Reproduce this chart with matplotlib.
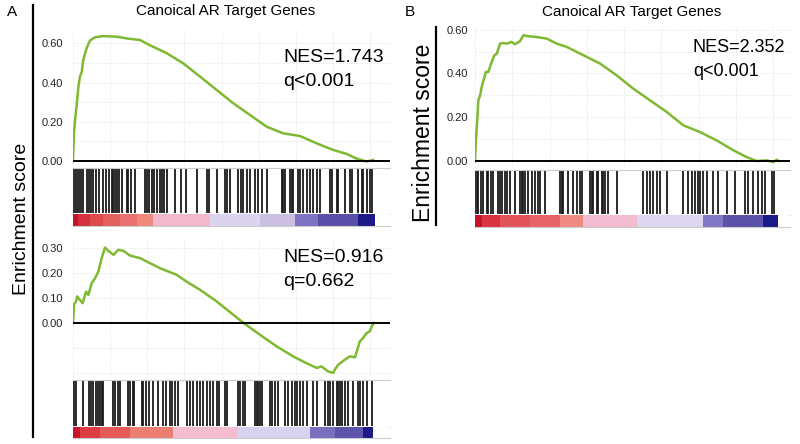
import numpy as np
import matplotlib.pyplot as plt

plt.rcParams['font.family'] = ['Liberation Sans', 'DejaVu Sans']

title = "Canoical AR Target Genes"

# running enrichment score, x = position in ranked gene list (%)
a1_x = [0, 0.3, 0.8, 1.2, 1.8, 2.3, 2.9, 3.4, 4.0, 4.7, 5.6, 7.3, 10.0, 14.5, 17.8,
        22.2, 25.5, 31.0, 36.5, 42.1, 47.6, 53.1, 58.6, 64.1, 69.6, 75.2, 80.7,
        86.2, 90.6, 93.9, 97.2, 99.4]
a1_y = [0, 0.14, 0.226, 0.28, 0.38, 0.43, 0.455, 0.515, 0.55, 0.583, 0.614, 0.631,
        0.637, 0.634, 0.625, 0.617, 0.59, 0.55, 0.498, 0.43, 0.362, 0.294, 0.235,
        0.175, 0.141, 0.127, 0.09, 0.056, 0.036, 0.012, -0.003, 0.005]

a2_x = [0, 0.2, 0.3, 1.0, 1.4, 2.3, 3.2, 4.3, 5.1, 6.2, 7.3, 8.4, 9.5, 10.6, 11.7,
        13.4, 15.0, 16.7, 18.9, 22.2, 25.5, 28.8, 34.3, 37.6, 42.1, 47.6, 53.1,
        56.9, 61.9, 67.4, 72.9, 77.3, 80.7, 82.3, 84.5, 86.2, 86.7, 87.9, 90.1,
        91.7, 93.4, 95.0, 96.1, 97.2, 98.3, 99.2, 99.7]
a2_y = [0, 0.04, 0.073, 0.086, 0.106, 0.092, 0.079, 0.125, 0.112, 0.159, 0.178,
        0.205, 0.258, 0.30, 0.287, 0.271, 0.291, 0.287, 0.268, 0.258, 0.238, 0.218,
        0.192, 0.165, 0.132, 0.086, 0.033, -0.003, -0.046, -0.092, -0.132, -0.159,
        -0.178, -0.172, -0.192, -0.198, -0.185, -0.165, -0.145, -0.132, -0.136,
        -0.073, -0.059, -0.040, -0.033, -0.007, 0]

b_x = [0, 0.3, 0.8, 1.1, 1.7, 2.2, 2.8, 3.6, 4.4, 5.5, 6.4, 7.2, 8.3, 9.4, 10.5,
       12.1, 13.2, 14.9, 15.95, 17.6, 20.4, 23.7, 27.0, 30.3, 35.8, 41.3, 46.8,
       52.3, 57.8, 63.3, 68.8, 74.3, 79.8, 85.3, 89.7, 93.0, 96.3, 98.5, 99.6, 100.3]
b_y = [0, 0.094, 0.20, 0.277, 0.30, 0.338, 0.368, 0.407, 0.407, 0.452, 0.483, 0.49,
       0.536, 0.539, 0.536, 0.544, 0.533, 0.548, 0.574, 0.57, 0.566, 0.559, 0.536,
       0.521, 0.483, 0.445, 0.391, 0.33, 0.277, 0.224, 0.163, 0.132, 0.094, 0.049,
       0.018, 0, 0.003, -0.005, 0.006, 0]

# gene set hits (%)
a1_hits = [0.1, 0.7, 1.4, 2.1, 2.6, 3.4, 4.5, 5.3, 6.0, 6.7, 7.6, 8.7, 9.8, 10.9,
           12.0, 12.8, 13.3, 13.9, 14.7, 15.3, 16.1, 17.8, 18.3, 19.1, 20.5, 23.8,
           24.6, 25.3, 26.1, 26.8, 27.7, 28.8, 29.4, 30.1, 31.2, 33.8, 35.7, 37.4,
           41.0, 44.5, 45.1, 47.6, 50.3, 50.9, 52.0, 54.7, 55.6, 56.4, 57.5, 58.6,
           60.3, 61.4, 62.5, 64.1, 69.1, 69.6, 70.2, 71.9, 72.4, 73.0, 74.6, 75.2,
           76.3, 77.4, 78.5, 79.6, 80.7, 81.8, 85.1, 85.7, 87.3, 87.8, 90.1, 91.7,
           92.3, 94.5, 95.6, 96.1, 97.3, 98.3, 98.9]
a2_hits = [0.3, 1.0, 3.2, 5.4, 6.0, 6.7, 7.6, 8.4, 8.9, 9.5, 10.0, 13.3, 13.9, 15.0,
           15.6, 18.3, 18.9, 19.8, 20.2, 22.7, 23.3, 24.2, 25.3, 26.4, 28.2, 29.9,
           30.8, 32.1, 32.7, 33.8, 34.9, 37.6, 38.7, 39.8, 41.0, 42.1, 43.1, 44.3,
           45.4, 46.5, 47.6, 48.4, 50.3, 50.9, 54.7, 55.3, 56.4, 57.0, 60.3, 60.8,
           61.4, 61.9, 62.5, 65.2, 65.8, 66.9, 68.0, 70.2, 71.3, 72.4, 73.5, 74.1,
           75.2, 76.3, 77.4, 79.6, 80.7, 83.4, 84.5, 85.1, 86.2, 87.3, 87.8, 88.4,
           89.0, 90.1, 91.2, 92.8, 94.5, 95.0, 96.1, 97.3, 98.9]
b_hits = [0, 0.6, 1.1, 2.0, 2.7, 3.9, 4.4, 5.3, 6.0, 7.5, 8.2, 8.8, 9.9, 10.5, 11.6,
          13.2, 14.9, 15.4, 15.9, 16.5, 17.4, 18.7, 19.8, 20.7, 21.5, 23.1, 28.1,
          28.6, 29.1, 30.8, 32.4, 33.6, 34.7, 35.2, 38.0, 38.5, 39.1, 40.2, 40.7,
          41.8, 42.3, 42.9, 44.0, 46.8, 55.5, 56.7, 57.8, 58.9, 60.0, 61.1, 63.3,
          68.7, 70.4, 71.5, 72.6, 73.7, 74.3, 75.3, 76.5, 78.6, 80.3, 83.1, 85.8,
          89.1, 90.2, 91.8, 93.5, 94.6, 95.7, 97.9, 98.7]

# ranked metric colour strip: segment edges (%) and colours
a1_edges = [0, 1.7, 5.6, 9.9, 15.6, 21.2, 26.5, 45.4, 61.9, 73.5, 81.1, 94.4, 100]
a1_cols = ['#c2152c', '#d43040', '#dc4a4e', '#e2605e', '#e87070', '#ef887c',
           '#f2b8cc', '#dad4ee', '#cbc0e2', '#7e74c2', '#5a50aa', '#1e1a8a']
a2_edges = [0, 2.3, 8.9, 18.9, 33.1, 54.3, 78.5, 86.8, 96, 99.3]
a2_cols = ['#c8142a', '#dc3c44', '#e45a58', '#ec7e72', '#f4bcd0', '#d8d2ee',
           '#7870be', '#5e54ac', '#1e1a8a']
b_edges = [0, 2.3, 8.3, 18.2, 28.1, 35.6, 53.5, 75.2, 81.8, 95, 100]
b_cols = ['#c4142c', '#d83440', '#e2545a', '#e66468', '#ee8a80', '#f4bcd0',
          '#dcd6ee', '#8078c4', '#5c52aa', '#1c1a88']

W, H = 800, 444
fig = plt.figure(figsize=(8, 4.44), dpi=100)


def box(x0, y0, x1, y1):
    return [x0 / W, 1 - y1 / H, (x1 - x0) / W, (y1 - y0) / H]


def panel(x0, x1, y_top, y_es, y_bar, y_end, xmax, x, y, ylim, ticks, hits,
          edges, cols, pad):
    ax = fig.add_axes(box(x0, y_top, x1, y_es))
    ax.plot(x, y, color='#7fb932', lw=1.8, solid_joinstyle='round')
    ax.axhline(0, color='black', lw=1.4)
    yt = np.arange(-0.2, ylim[1], 0.1)
    ax.set_xticks(np.arange(0, xmax, 12.3))
    ax.set_yticks(yt)
    ax.set_yticklabels(['%.2f' % t if round(t, 2) in ticks else '' for t in yt])
    ax.set_xticklabels([])
    ax.set_xlim(0, xmax)
    ax.set_ylim(*ylim)
    ax.grid(True, color='#dddddd', lw=0.6, ls=':')
    ax.tick_params(length=0, labelsize=8, labelcolor='#222222', pad=pad)
    for s in ax.spines.values():
        s.set_visible(False)

    hx = fig.add_axes(box(x0, y_es, x1, y_bar))
    hx.vlines(hits, 0.02, 1, color='#1a1a1a', lw=1.3)
    hx.set_xlim(0, xmax)
    hx.set_ylim(0, 1)
    hx.set_xticks([])
    hx.set_yticks([])
    for s in ['left', 'right']:
        hx.spines[s].set_visible(False)
    for s in ['top', 'bottom']:
        hx.spines[s].set_color('#cccccc')

    cx = fig.add_axes(box(x0, y_bar, x1, y_end))
    cx.bar(edges[:-1], 1, width=np.diff(edges), align='edge', color=cols, lw=0)
    cx.set_xlim(0, xmax)
    cx.set_ylim(0, 1)
    cx.set_xticks([])
    cx.set_yticks([])
    for s in ['left', 'right', 'top']:
        cx.spines[s].set_visible(False)
    cx.spines['bottom'].set_color('#cccccc')
    return ax


panel(73, 390, 30, 168, 214, 226, 105, a1_x, a1_y, (-0.036, 0.668),
      [0.0, 0.2, 0.4, 0.6], a1_hits, a1_edges, a1_cols, 7)
panel(73, 390, 240, 380, 427, 438, 105, a2_x, a2_y, (-0.226, 0.33),
      [0.0, 0.1, 0.2, 0.3], a2_hits, a2_edges, a2_cols, 7)
panel(475, 790, 27, 170, 215, 227, 104, b_x, b_y, (-0.041, 0.612),
      [0.0, 0.2, 0.4, 0.6], b_hits, b_edges, b_cols, 5)


def ftext(x, y, s, **kw):
    fig.text(x / W, 1 - y / H, s, **kw)


ftext(12, 12, 'A', fontsize=11, ha='center', va='center')
ftext(410, 12, 'B', fontsize=11, ha='center', va='center')
ftext(226, 11, title, fontsize=11, ha='center', va='center')
ftext(632, 12, title, fontsize=11, ha='center', va='center')
ftext(22, 219, 'Enrichment score', fontsize=14, rotation=90, ha='center', va='center')
ftext(423, 133, 'Enrichment score', fontsize=16.5, rotation=90, ha='center', va='center')

ftext(283, 58, 'NES=1.743', fontsize=14, va='center')
ftext(283, 82, 'q<0.001', fontsize=14, va='center')
ftext(283, 257, 'NES=0.916', fontsize=14, va='center')
ftext(283, 282, 'q=0.662', fontsize=14, va='center')
ftext(693, 48, 'NES=2.352', fontsize=13, va='center')
ftext(693, 72, 'q<0.001', fontsize=13, va='center')

fig.add_artist(plt.Line2D([33 / W, 33 / W], [1 - 5 / H, 1 - 437 / H], color='black', lw=1.6))
fig.add_artist(plt.Line2D([436 / W, 436 / W], [1 - 27 / H, 1 - 225 / H], color='black', lw=1.6))

fig.savefig('out.png', dpi=100)
